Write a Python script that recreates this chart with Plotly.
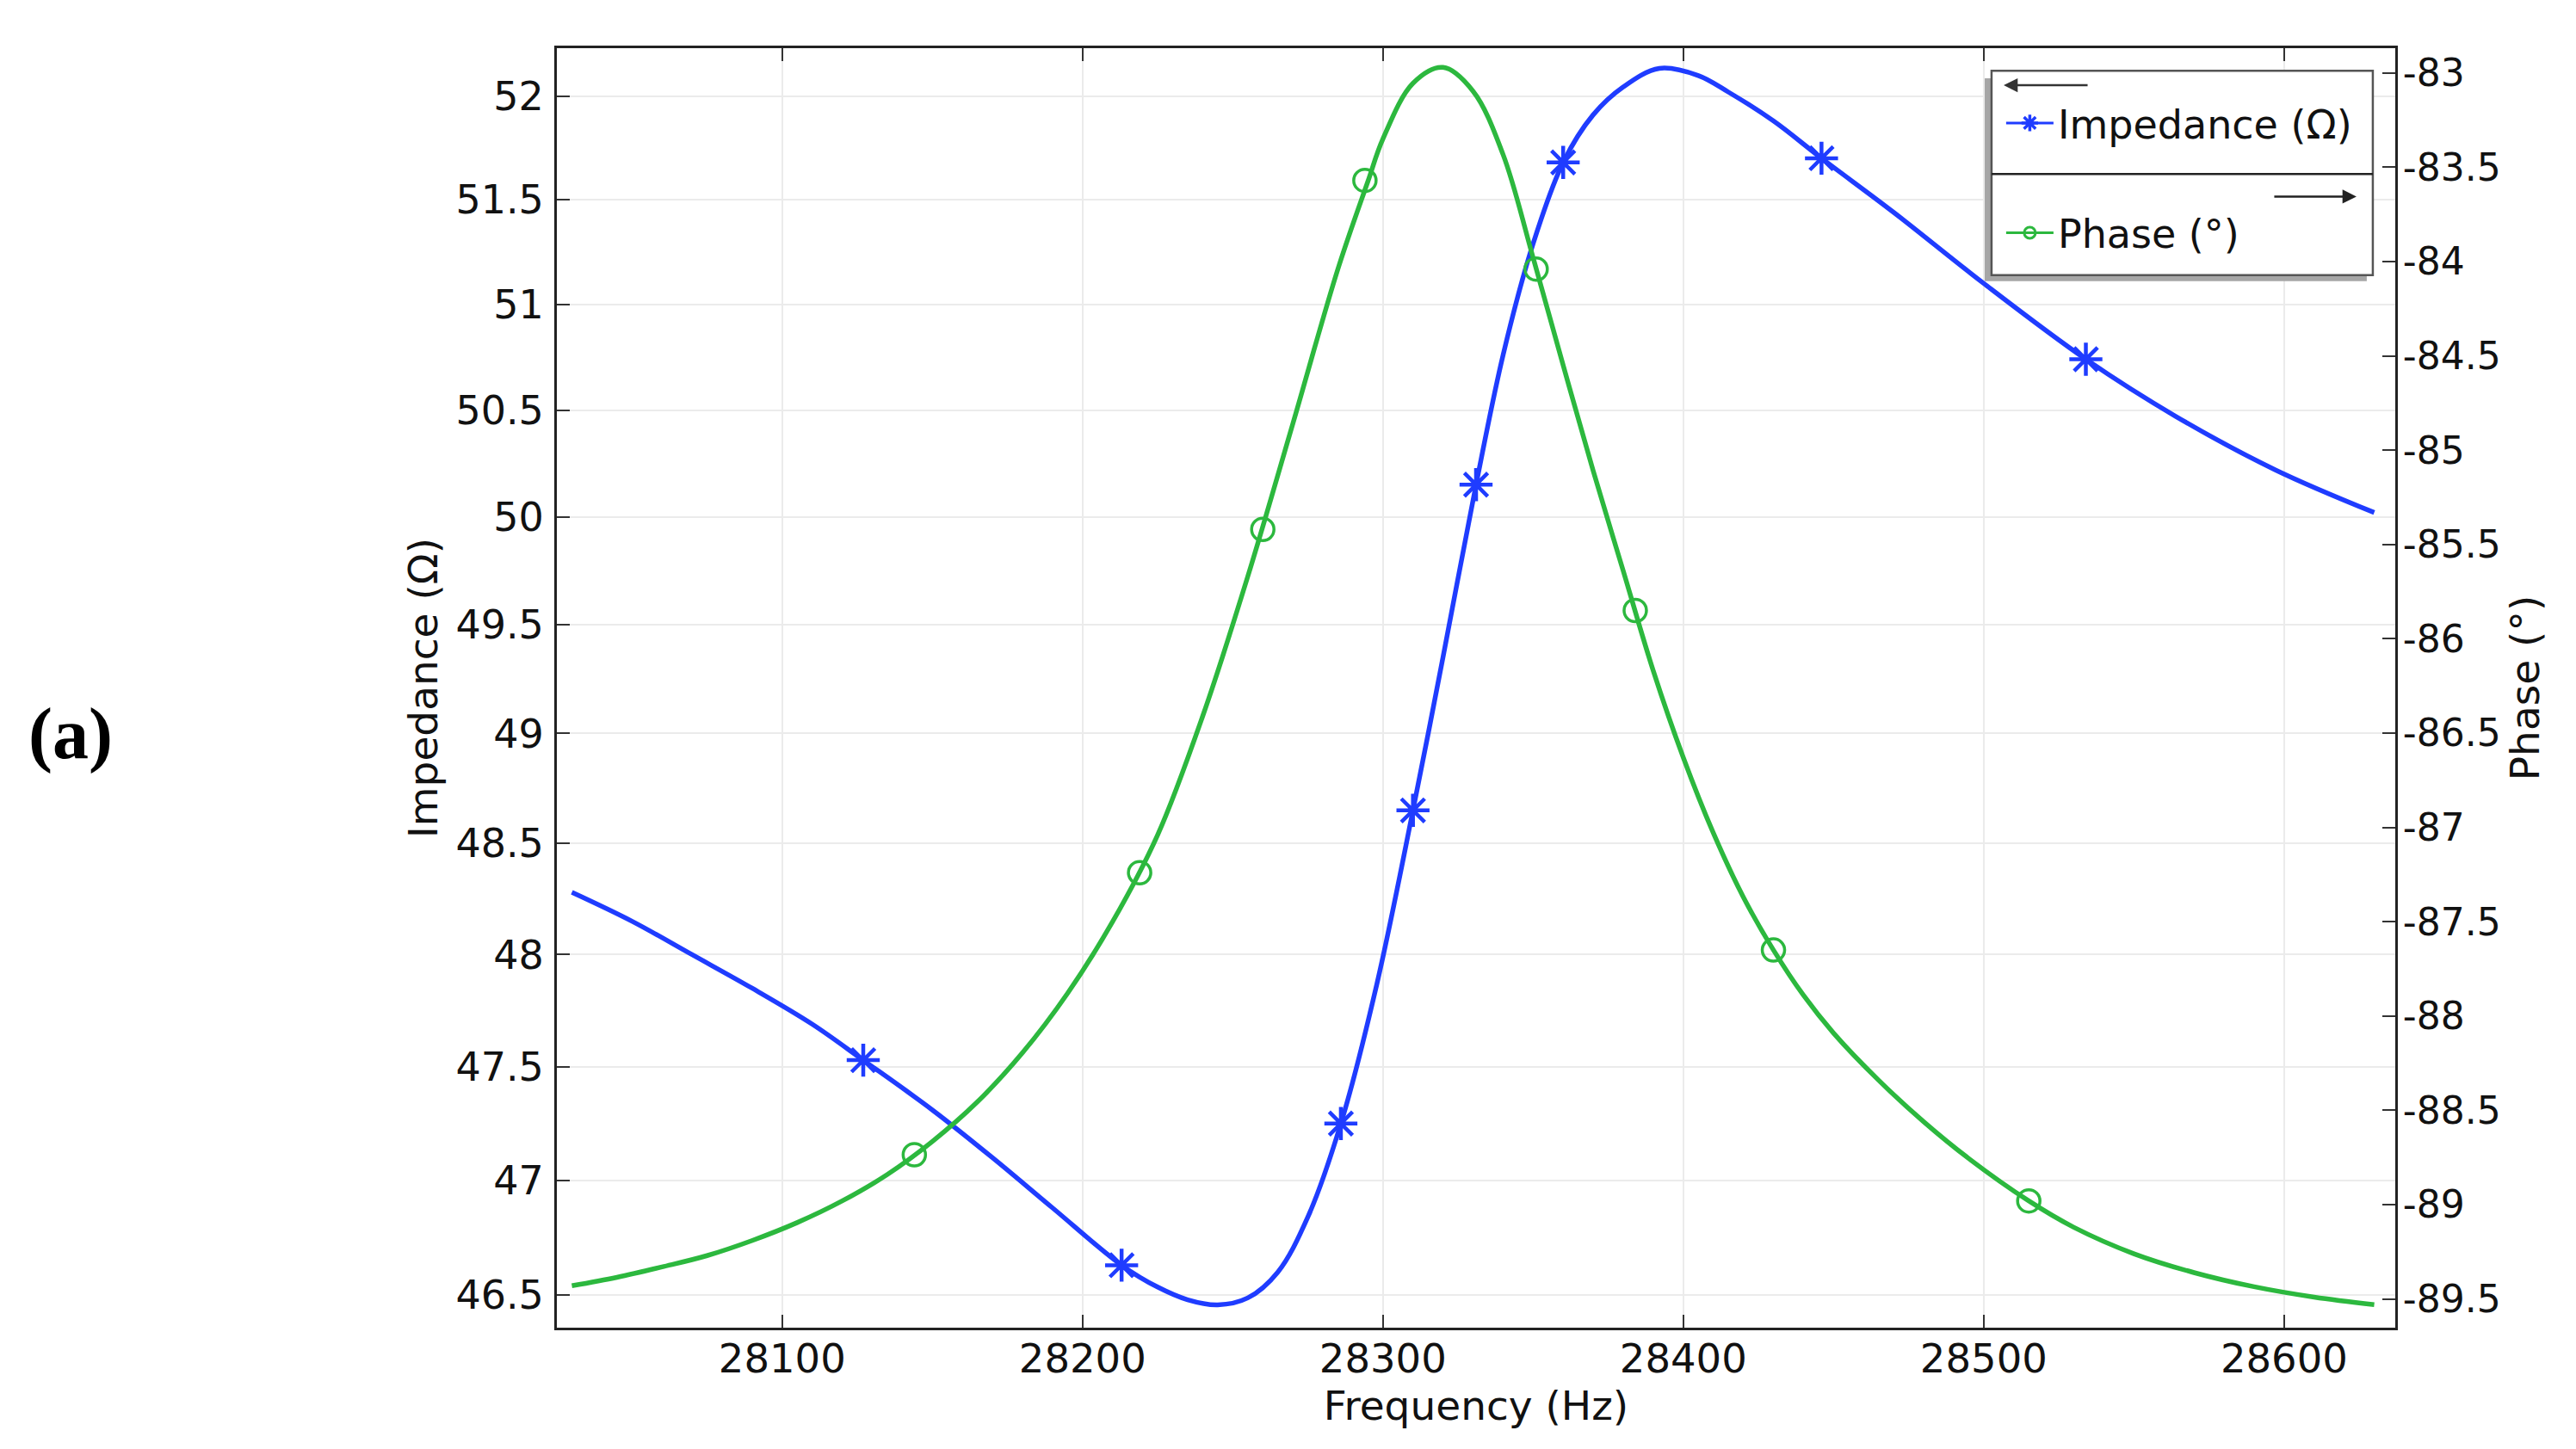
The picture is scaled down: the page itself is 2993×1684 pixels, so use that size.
import plotly.graph_objects as go

# ---------------- data ----------------
imp_freq = [28030, 28050, 28070, 28090, 28110, 28127, 28150, 28170, 28190, 28213,
            28225, 28235, 28245, 28255, 28265, 28275, 28286, 28298, 28310, 28320,
            28331, 28340, 28350, 28360, 28370, 28380, 28392, 28405, 28415, 28430,
            28446, 28470, 28500, 28534, 28564, 28597, 28630]
imp_vals = [48.28, 48.15, 48.00, 47.85, 47.69, 47.53, 47.31, 47.10, 46.88, 46.63,
            46.535, 46.48, 46.458, 46.488, 46.60, 46.84, 47.25, 47.87, 48.65, 49.35,
            50.15, 50.76, 51.29, 51.68, 51.91, 52.045, 52.135, 52.10, 52.02, 51.88,
            51.70, 51.44, 51.10, 50.74, 50.47, 50.22, 50.02]

imp_marker_freq = [28127, 28213, 28286, 28310, 28331, 28360, 28446, 28534]
imp_marker_vals = [47.53, 46.63, 47.25, 48.65, 50.15, 51.68, 51.70, 50.74]

phase_freq = [28030, 28045, 28060, 28075, 28090, 28105, 28120, 28135, 28150, 28165,
              28180, 28195, 28210, 28225, 28240, 28255, 28270, 28285, 28295, 28300,
              28310, 28320, 28330, 28340, 28350, 28360, 28370, 28380, 28390, 28400,
              28410, 28420, 28430, 28440, 28450, 28465, 28480, 28495, 28515, 28530,
              28550, 28570, 28590, 28610, 28630]
phase_vals = [-89.43, -89.385, -89.33, -89.27, -89.19, -89.095, -88.98, -88.84, -88.665, -88.455,
              -88.195, -87.88, -87.50, -87.04, -86.41, -85.67, -84.86, -84.04, -83.575, -83.35,
              -83.055, -82.971, -83.097, -83.433, -83.98, -84.55, -85.11, -85.64, -86.17, -86.63,
              -87.03, -87.37, -87.65, -87.89, -88.09, -88.34, -88.56, -88.755, -88.98, -89.12,
              -89.26, -89.36, -89.435, -89.49, -89.53]

phase_marker_freq = [28144, 28219, 28260, 28294, 28351, 28384, 28430, 28515]
phase_marker_vals = [-88.735, -87.24, -85.42, -83.57, -84.04, -85.85, -87.65, -88.98]

x_ticks = [28100, 28200, 28300, 28400, 28500, 28600]
imp_ticks = [46.5, 47, 47.5, 48, 48.5, 49, 49.5, 50, 50.5, 51, 51.5, 52]
phase_ticks = [-83, -83.5, -84, -84.5, -85, -85.5, -86, -86.5, -87, -87.5, -88, -88.5, -89, -89.5]

imp_name = "Impedance (Ω)"
phase_name = "Phase (°)"

# ---------------- style ----------------
BLUE = "#1f3cff"
GREEN = "#2cb83e"
FONT = "DejaVu Sans"
TXT = "#111111"

fig = go.Figure()

fig.add_trace(go.Scatter(x=imp_freq, y=imp_vals, mode="lines",
                         line=dict(color=BLUE, width=5.5, shape="spline", smoothing=1.0),
                         showlegend=False, yaxis="y", hoverinfo="skip"))
fig.add_trace(go.Scatter(x=imp_marker_freq, y=imp_marker_vals, mode="markers",
                         marker=dict(symbol="asterisk-open", size=32, color=BLUE,
                                     line=dict(width=4.5, color=BLUE)),
                         showlegend=False, yaxis="y"))

fig.add_trace(go.Scatter(x=phase_freq, y=phase_vals, mode="lines",
                         line=dict(color=GREEN, width=5.5, shape="spline", smoothing=1.0),
                         showlegend=False, yaxis="y2", hoverinfo="skip"))
fig.add_trace(go.Scatter(x=phase_marker_freq, y=phase_marker_vals, mode="markers",
                         marker=dict(symbol="circle-open", size=26, color=GREEN,
                                     line=dict(width=3.5, color=GREEN)),
                         showlegend=False, yaxis="y2"))

# legend entries
fig.add_trace(go.Scatter(x=[None], y=[None], mode="lines+markers", name=imp_name,
                         line=dict(color=BLUE, width=3),
                         marker=dict(symbol="asterisk-open", size=16, color=BLUE,
                                     line=dict(width=3.5, color=BLUE)),
                         yaxis="y", legend="legend"))
fig.add_trace(go.Scatter(x=[None], y=[None], mode="lines+markers", name=phase_name,
                         line=dict(color=GREEN, width=3),
                         marker=dict(symbol="circle-open", size=13, color=GREEN,
                                     line=dict(width=3, color=GREEN)),
                         yaxis="y2", legend="legend2"))

axis_common = dict(
    showline=True, linecolor="#222222", linewidth=3,
    ticks="inside", ticklen=15, tickwidth=2, tickcolor="#333333",
    zeroline=False,
)

fig.update_layout(
    width=2993, height=1684,
    paper_bgcolor="white", plot_bgcolor="white",
    margin=dict(l=639, r=218, t=48, b=149, autoexpand=False),
    font=dict(family=FONT, size=45, color=TXT),
    xaxis=dict(
        range=[28025, 28637], tickvals=x_ticks, ticktext=[str(t) for t in x_ticks],
        showgrid=True, gridcolor="#ebebeb", gridwidth=2, mirror="ticks",
        tickfont=dict(family=FONT, size=46.5, color=TXT),
        title=dict(text="Frequency (Hz)", font=dict(family=FONT, size=47, color=TXT), standoff=0),
        ticklabelstandoff=-7,
        **axis_common),
    yaxis=dict(
        type="log", range=[1.666136, 1.717947],
        tickvals=imp_ticks, ticktext=[f"{t:g}" for t in imp_ticks],
        showgrid=True, gridcolor="#ebebeb", gridwidth=2,
        tickfont=dict(family=FONT, size=46, color=TXT),
        title=dict(text=imp_name, font=dict(family=FONT, size=47, color=TXT), standoff=6),
        ticklabelstandoff=3,
        **axis_common),
    yaxis2=dict(
        overlaying="y", side="right", range=[-89.652, -82.869],
        tickvals=phase_ticks, ticktext=[f"{t:g}" for t in phase_ticks],
        showgrid=False,
        tickfont=dict(family=FONT, size=44, color=TXT),
        title=dict(text=phase_name, font=dict(family=FONT, size=47, color=TXT), standoff=4),
        ticklabelstandoff=-3,
        **axis_common),
    legend=dict(x=0.786, y=0.9415, xanchor="left", yanchor="middle",
                bgcolor="rgba(0,0,0,0)", borderwidth=0, itemwidth=55,
                font=dict(family=FONT, size=46, color=TXT), itemsizing="trace"),
    legend2=dict(x=0.786, y=0.8557, xanchor="left", yanchor="middle",
                 bgcolor="rgba(0,0,0,0)", borderwidth=0, itemwidth=55,
                 font=dict(family=FONT, size=46, color=TXT), itemsizing="trace"),
    showlegend=True,
)

# legend box (shadow, box, divider)
fig.add_shape(type="rect", xref="paper", yref="paper", x0=0.7767, x1=0.9845, y0=0.8180, y1=0.9765,
              fillcolor="#a6a6a6", line=dict(width=0), layer="above")
fig.add_shape(type="rect", xref="paper", yref="paper", x0=0.7804, x1=0.9878, y0=0.8227, y1=0.9823,
              fillcolor="white", line=dict(color="#555555", width=2.5), layer="above")
fig.add_shape(type="line", xref="paper", yref="paper", x0=0.7804, x1=0.9878, y0=0.9016, y1=0.9016,
              line=dict(color="#222222", width=2.5), layer="above")

# axis-direction arrows inside legend
fig.add_annotation(xref="paper", yref="paper", x=0.787, y=0.9710, ax=99, ay=0, text="",
                   showarrow=True, arrowhead=2, arrowsize=1.3, arrowwidth=2.5, arrowcolor="#333333")
fig.add_annotation(xref="paper", yref="paper", x=0.9789, y=0.8840, ax=-97, ay=0, text="",
                   showarrow=True, arrowhead=2, arrowsize=1.3, arrowwidth=2.5, arrowcolor="#222222")

# panel label
fig.add_annotation(xref="paper", yref="paper", x=-0.2645, y=0.4643, xanchor="center", yanchor="middle",
                   text="<b>(a)</b>", showarrow=False,
                   font=dict(family="Liberation Serif", size=84, color="black"))

fig.write_html("out.html")
